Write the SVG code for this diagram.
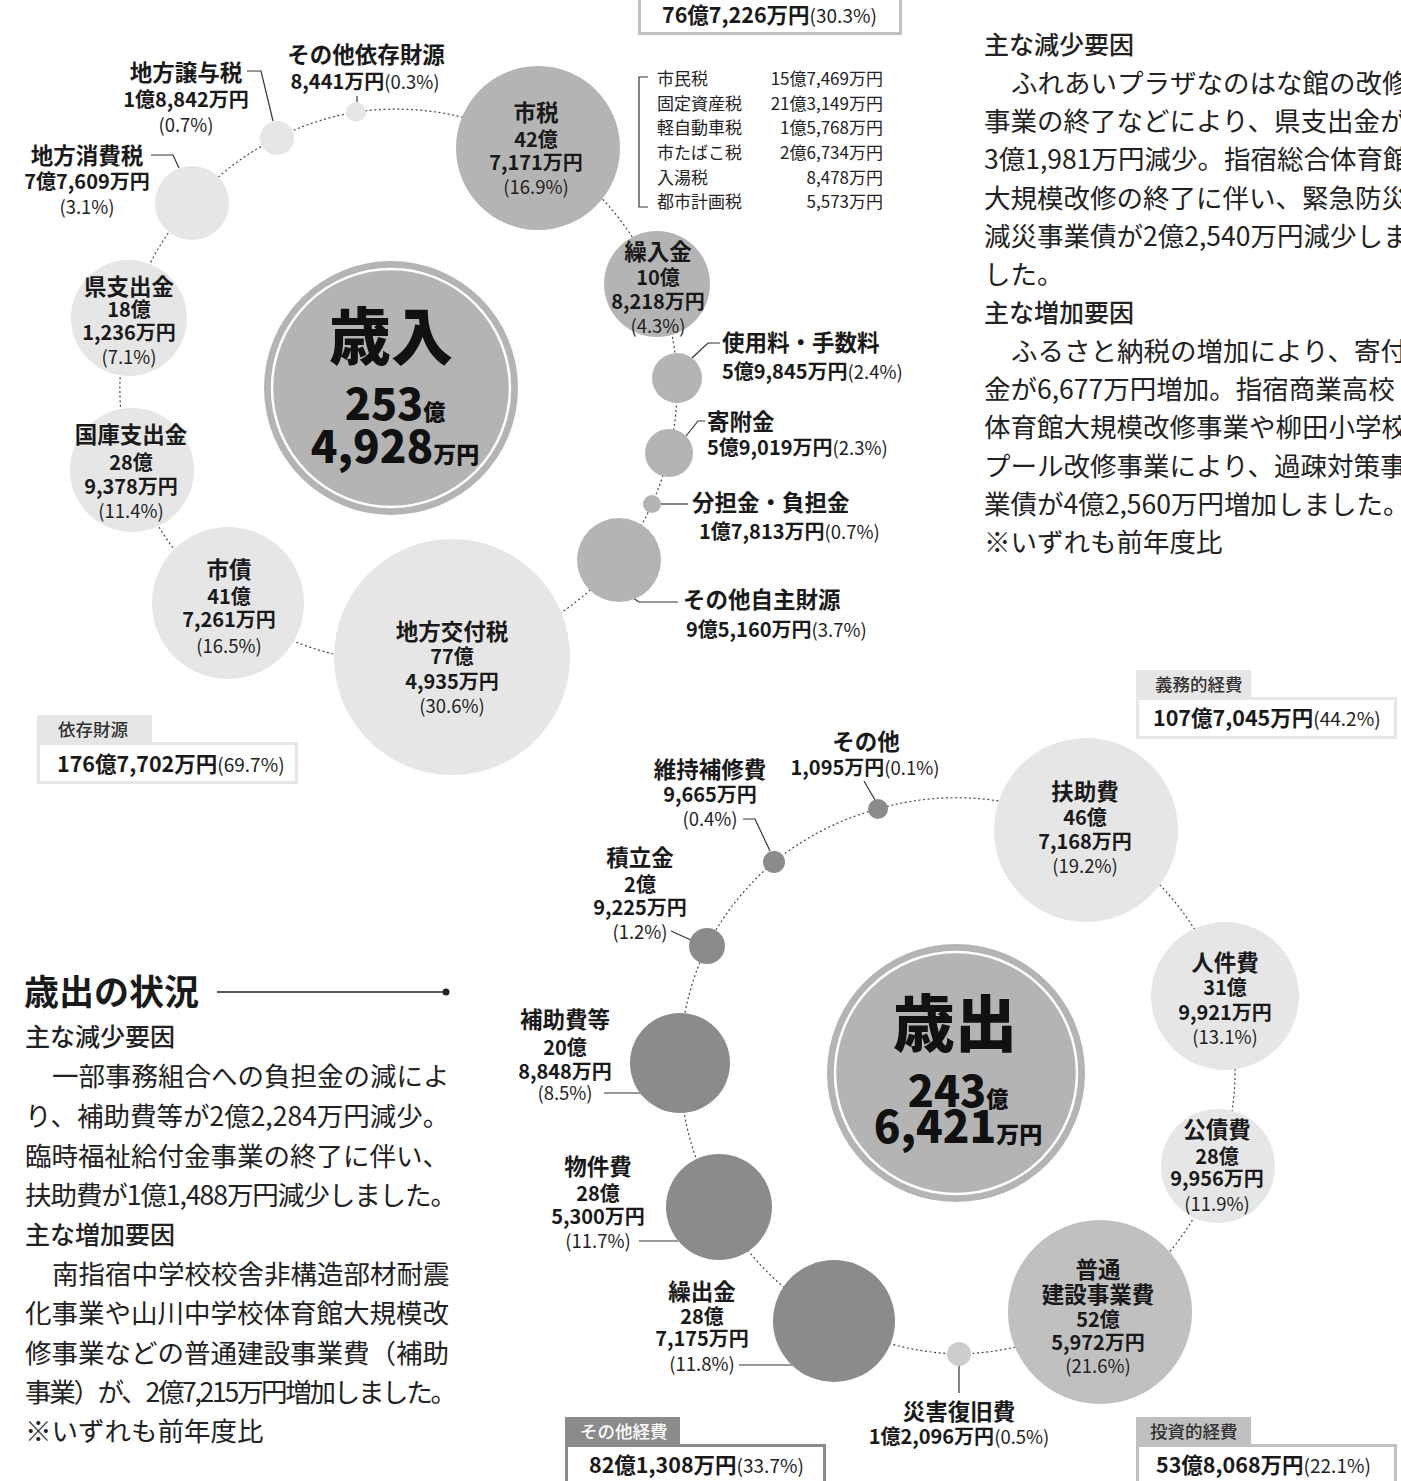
<svg xmlns="http://www.w3.org/2000/svg" width="1401" height="1481" viewBox="0 0 1401 1481">
<style>
text{font-family:"Noto Sans CJK JP","Noto Sans",sans-serif;fill:#1a1a1a}
.nm{font-size:22.5px;font-weight:700;text-anchor:middle}
.nu{font-size:20px;font-weight:700;text-anchor:middle}
.pc{font-size:18.5px;font-weight:400;fill:#222}
.st{text-anchor:start}
.big{font-weight:900;text-anchor:middle;fill:#111}
.dot{fill:none;stroke:#444;stroke-width:1.2;stroke-dasharray:2 2.6}
.ld{fill:none;stroke:#333;stroke-width:1.2}
.g1{fill:#e6e6e6}
.g2{fill:#b4b4b4}
.g3{fill:#8b8b8b}
.g4{fill:#c0c0c0}
.g5{fill:#cdcdcd}
.ring{fill:none;stroke:#fff;stroke-width:2.5}
.body{font-size:26.5px;font-weight:400;fill:#222}
.hd{font-size:25px;font-weight:500;fill:#222}
.tax{font-size:17px;font-weight:400;fill:#222}
.tabt{font-size:17.5px;font-weight:500;fill:#333}
.bx{fill:#fff;stroke-width:3}
.bn{font-size:21.5px;font-weight:700}
.bp{font-size:19px;font-weight:400;fill:#222}
</style>

<!-- connectors -->
<g id="connectors">
  <path class="dot" d="M356 112 A279 279 0 0 1 538 148"/>
  <path class="dot" d="M538 148 A279 279 0 0 1 657 284"/>
  <path class="dot" d="M657 284 A279 279 0 0 1 677 378"/>
  <path class="dot" d="M677 378 A279 279 0 0 1 669 453"/>
  <path class="dot" d="M669 453 A279 279 0 0 1 652 504"/>
  <path class="dot" d="M652 504 A279 279 0 0 1 619 560"/>
  <path class="dot" d="M619 560 A279 279 0 0 1 452 657"/>
  <path class="dot" d="M452 657 A279 279 0 0 1 228 603"/>
  <path class="dot" d="M228 603 A279 279 0 0 1 132 470"/>
  <path class="dot" d="M132 470 A279 279 0 0 1 129 318"/>
  <path class="dot" d="M129 318 A279 279 0 0 1 192 203"/>
  <path class="dot" d="M192 203 A279 279 0 0 1 277 138"/>
  <path class="dot" d="M277 138 A279 279 0 0 1 356 112"/>

  <path class="dot" d="M878 809 A277 277 0 0 1 1086 830"/>
  <path class="dot" d="M1086 830 A277 277 0 0 1 1225 996"/>
  <path class="dot" d="M1225 996 A277 277 0 0 1 1218 1166"/>
  <path class="dot" d="M1218 1166 A277 277 0 0 1 1100 1312"/>
  <path class="dot" d="M1100 1312 A277 277 0 0 1 959 1354"/>
  <path class="dot" d="M959 1354 A277 277 0 0 1 834 1321"/>
  <path class="dot" d="M834 1321 A277 277 0 0 1 719 1207"/>
  <path class="dot" d="M719 1207 A277 277 0 0 1 680 1063"/>
  <path class="dot" d="M680 1063 A277 277 0 0 1 707 946"/>
  <path class="dot" d="M707 946 A277 277 0 0 1 774 862"/>
  <path class="dot" d="M774 862 A277 277 0 0 1 878 809"/>

  <!-- leader lines -->
  <path class="ld" d="M357 96 V102"/>
  <path class="ld" d="M247 71 H261 L273 121"/>
  <path class="ld" d="M151 155 H173 L179 168"/>
  <path class="ld" d="M720 343 H708 L692 358"/>
  <path class="ld" d="M705 421 H698 L686 436"/>
  <path class="ld" d="M661 504 H688"/>
  <path class="ld" d="M633 598 L639 602 H678"/>
  <path class="ld" d="M864 781 L875 800"/>
  <path class="ld" d="M743 819 H755 L770 851"/>
  <path class="ld" d="M671 931 L691 940"/>
  <path class="ld" d="M604 1093 H641"/>
  <path class="ld" d="M639 1241 H678"/>
  <path class="ld" d="M739 1365 H792"/>
  <path class="ld" d="M959 1366 V1393"/>
  <path class="ld" d="M648 77 H639 V207 H648"/>
</g>

<!-- revenue center -->
<g id="sainyu">
  <circle cx="391" cy="388" r="127" class="g2"/>
  <circle cx="391" cy="388" r="119" class="ring"/>
  <text x="391" y="360" class="big" font-size="62">歳入</text>
  <text x="395" y="420" class="big"><tspan font-size="43">253</tspan><tspan font-size="22">億</tspan></text>
  <text x="395" y="463" class="big"><tspan font-size="44">4,928</tspan><tspan font-size="23">万円</tspan></text>
</g>

<g id="n-sonota-izon">
  <circle cx="356" cy="112" r="10" class="g1"/>
  <text x="366" y="63" class="nm">その他依存財源</text>
  <text x="365" y="89" class="nu">8,441万円<tspan class="pc">(0.3%)</tspan></text>
</g>
<g id="n-jouyo">
  <circle cx="277" cy="138" r="17" class="g1"/>
  <text x="186" y="81" class="nm">地方譲与税</text>
  <text x="186" y="107" class="nu">1億8,842万円</text>
  <text x="186" y="132" class="pc" text-anchor="middle">(0.7%)</text>
</g>
<g id="n-shouhi">
  <circle cx="192" cy="203" r="37" class="g1"/>
  <text x="87" y="164" class="nm">地方消費税</text>
  <text x="87" y="189" class="nu">7億7,609万円</text>
  <text x="87" y="214" class="pc" text-anchor="middle">(3.1%)</text>
</g>
<g id="n-ken">
  <circle cx="129" cy="318" r="58" class="g1"/>
  <text x="129" y="295" class="nm">県支出金</text>
  <text x="129" y="317" class="nu">18億</text>
  <text x="129" y="340" class="nu">1,236万円</text>
  <text x="129" y="364" class="pc" text-anchor="middle">(7.1%)</text>
</g>
<g id="n-kokko">
  <circle cx="132" cy="470" r="62" class="g1"/>
  <text x="131" y="443" class="nm">国庫支出金</text>
  <text x="131" y="470" class="nu">28億</text>
  <text x="131" y="494" class="nu">9,378万円</text>
  <text x="131" y="518" class="pc" text-anchor="middle">(11.4%)</text>
</g>
<g id="n-shisai">
  <circle cx="228" cy="603" r="76" class="g1"/>
  <text x="229" y="578" class="nm">市債</text>
  <text x="229" y="604" class="nu">41億</text>
  <text x="229" y="627" class="nu">7,261万円</text>
  <text x="229" y="653" class="pc" text-anchor="middle">(16.5%)</text>
</g>
<g id="n-koufu">
  <circle cx="452" cy="657" r="118" class="g1"/>
  <text x="452" y="640" class="nm">地方交付税</text>
  <text x="452" y="664" class="nu">77億</text>
  <text x="452" y="689" class="nu">4,935万円</text>
  <text x="452" y="713" class="pc" text-anchor="middle">(30.6%)</text>
</g>
<g id="n-shizei">
  <circle cx="538" cy="148" r="82" class="g2"/>
  <text x="536" y="121" class="nm">市税</text>
  <text x="536" y="147" class="nu">42億</text>
  <text x="536" y="170" class="nu">7,171万円</text>
  <text x="536" y="194" class="pc" text-anchor="middle">(16.9%)</text>
</g>
<g id="n-kuriire">
  <circle cx="657" cy="284" r="53" class="g2"/>
  <text x="658" y="260" class="nm">繰入金</text>
  <text x="658" y="285" class="nu">10億</text>
  <text x="658" y="309" class="nu">8,218万円</text>
  <text x="658" y="333" class="pc" text-anchor="middle">(4.3%)</text>
</g>
<g id="n-shiyou">
  <circle cx="677" cy="378" r="25" class="g2"/>
  <text x="722" y="351" class="nm st">使用料・手数料</text>
  <text x="722" y="379" class="nu st">5億9,845万円<tspan class="pc">(2.4%)</tspan></text>
</g>
<g id="n-kifu">
  <circle cx="669" cy="453" r="24" class="g2"/>
  <text x="707" y="430" class="nm st">寄附金</text>
  <text x="707" y="455" class="nu st">5億9,019万円<tspan class="pc">(2.3%)</tspan></text>
</g>
<g id="n-buntan">
  <circle cx="652" cy="504" r="9" class="g2"/>
  <text x="692" y="511" class="nm st">分担金・負担金</text>
  <text x="699" y="539" class="nu st">1億7,813万円<tspan class="pc">(0.7%)</tspan></text>
</g>
<g id="n-sonota-jishu">
  <circle cx="619" cy="560" r="42" class="g2"/>
  <text x="683" y="608" class="nm st">その他自主財源</text>
  <text x="686" y="637" class="nu st">9億5,160万円<tspan class="pc">(3.7%)</tspan></text>
</g>

<g id="tax-list">
  <text x="657" y="85" class="tax">市民税</text><text x="883" y="85" class="tax" text-anchor="end">15億7,469万円</text>
  <text x="657" y="110" class="tax">固定資産税</text><text x="883" y="110" class="tax" text-anchor="end">21億3,149万円</text>
  <text x="657" y="134" class="tax">軽自動車税</text><text x="883" y="134" class="tax" text-anchor="end">1億5,768万円</text>
  <text x="657" y="159" class="tax">市たばこ税</text><text x="883" y="159" class="tax" text-anchor="end">2億6,734万円</text>
  <text x="657" y="184" class="tax">入湯税</text><text x="883" y="184" class="tax" text-anchor="end">8,478万円</text>
  <text x="657" y="208" class="tax">都市計画税</text><text x="883" y="208" class="tax" text-anchor="end">5,573万円</text>
</g>

<!-- legend boxes -->
<g id="box-jishu">
  <rect x="639.5" y="-10" width="261" height="43.5" class="bx" stroke="#c0c0c0"/>
  <text x="662" y="23"><tspan class="bn">76億7,226万円</tspan><tspan class="bp">(30.3%)</tspan></text>
</g>
<g id="box-izon">
  <rect x="37" y="715" width="115" height="28" fill="#e6e6e6"/>
  <text x="58" y="736" class="tabt">依存財源</text>
  <rect x="38.5" y="743.5" width="258" height="39" class="bx" stroke="#e6e6e6"/>
  <text x="57" y="772"><tspan class="bn">176億7,702万円</tspan><tspan class="bp">(69.7%)</tspan></text>
</g>
<g id="box-gimu">
  <rect x="1136" y="670" width="115" height="28" fill="#e6e6e6"/>
  <text x="1155" y="691" class="tabt">義務的経費</text>
  <rect x="1137.5" y="698.5" width="258" height="39" class="bx" stroke="#e6e6e6"/>
  <text x="1153" y="726"><tspan class="bn">107億7,045万円</tspan><tspan class="bp">(44.2%)</tspan></text>
</g>
<g id="box-sonota">
  <rect x="565" y="1417" width="115" height="28" fill="#8b8b8b"/>
  <text x="580" y="1438" class="tabt" style="fill:#fff">その他経費</text>
  <rect x="566.5" y="1445.5" width="258" height="40" class="bx" stroke="#8b8b8b"/>
  <text x="589" y="1473"><tspan class="bn">82億1,308万円</tspan><tspan class="bp">(33.7%)</tspan></text>
</g>
<g id="box-toushi">
  <rect x="1136" y="1417" width="115" height="28" fill="#c0c0c0"/>
  <text x="1150" y="1438" class="tabt">投資的経費</text>
  <rect x="1137.5" y="1445.5" width="258" height="40" class="bx" stroke="#c0c0c0"/>
  <text x="1156" y="1473"><tspan class="bn">53億8,068万円</tspan><tspan class="bp">(22.1%)</tspan></text>
</g>

<!-- expenditure center -->
<g id="saishutsu">
  <circle cx="956" cy="1073" r="129" class="g2"/>
  <circle cx="956" cy="1073" r="121" class="ring"/>
  <text x="955" y="1047" class="big" font-size="62">歳出</text>
  <text x="958" y="1107" class="big"><tspan font-size="43">243</tspan><tspan font-size="22">億</tspan></text>
  <text x="958" y="1143" class="big"><tspan font-size="44">6,421</tspan><tspan font-size="23">万円</tspan></text>
</g>

<g id="n-sonota">
  <circle cx="878" cy="809" r="10" class="g3"/>
  <text x="866" y="750" class="nm">その他</text>
  <text x="865" y="775" class="nu">1,095万円<tspan class="pc">(0.1%)</tspan></text>
</g>
<g id="n-iji">
  <circle cx="774" cy="862" r="11" class="g3"/>
  <text x="710" y="778" class="nm">維持補修費</text>
  <text x="710" y="802" class="nu">9,665万円</text>
  <text x="710" y="826" class="pc" text-anchor="middle">(0.4%)</text>
</g>
<g id="n-tsumitate">
  <circle cx="707" cy="946" r="18" class="g3"/>
  <text x="640" y="866" class="nm">積立金</text>
  <text x="640" y="892" class="nu">2億</text>
  <text x="640" y="915" class="nu">9,225万円</text>
  <text x="640" y="939" class="pc" text-anchor="middle">(1.2%)</text>
</g>
<g id="n-hojo">
  <circle cx="680" cy="1063" r="50" class="g3"/>
  <text x="565" y="1028" class="nm">補助費等</text>
  <text x="565" y="1055" class="nu">20億</text>
  <text x="565" y="1079" class="nu">8,848万円</text>
  <text x="565" y="1100" class="pc" text-anchor="middle">(8.5%)</text>
</g>
<g id="n-bukken">
  <circle cx="719" cy="1207" r="53" class="g3"/>
  <text x="598" y="1175" class="nm">物件費</text>
  <text x="598" y="1201" class="nu">28億</text>
  <text x="598" y="1224" class="nu">5,300万円</text>
  <text x="598" y="1248" class="pc" text-anchor="middle">(11.7%)</text>
</g>
<g id="n-kuridashi">
  <circle cx="834" cy="1321" r="61" class="g3"/>
  <text x="702" y="1300" class="nm">繰出金</text>
  <text x="702" y="1324" class="nu">28億</text>
  <text x="702" y="1346" class="nu">7,175万円</text>
  <text x="702" y="1371" class="pc" text-anchor="middle">(11.8%)</text>
</g>
<g id="n-saigai">
  <circle cx="959" cy="1354" r="12" class="g5"/>
  <text x="959" y="1420" class="nm">災害復旧費</text>
  <text x="959" y="1444" class="nu">1億2,096万円<tspan class="pc">(0.5%)</tspan></text>
</g>
<g id="n-futsu">
  <circle cx="1100" cy="1312" r="92" class="g4"/>
  <text x="1098" y="1278" class="nm">普通</text>
  <text x="1098" y="1303" class="nm">建設事業費</text>
  <text x="1098" y="1327" class="nu">52億</text>
  <text x="1098" y="1350" class="nu">5,972万円</text>
  <text x="1098" y="1373" class="pc" text-anchor="middle">(21.6%)</text>
</g>
<g id="n-kousai">
  <circle cx="1218" cy="1166" r="57" class="g1"/>
  <text x="1217" y="1138" class="nm">公債費</text>
  <text x="1217" y="1164" class="nu">28億</text>
  <text x="1217" y="1186" class="nu">9,956万円</text>
  <text x="1217" y="1211" class="pc" text-anchor="middle">(11.9%)</text>
</g>
<g id="n-jinken">
  <circle cx="1225" cy="996" r="74" class="g1"/>
  <text x="1225" y="971" class="nm">人件費</text>
  <text x="1225" y="995" class="nu">31億</text>
  <text x="1225" y="1020" class="nu">9,921万円</text>
  <text x="1225" y="1044" class="pc" text-anchor="middle">(13.1%)</text>
</g>
<g id="n-fujo">
  <circle cx="1086" cy="830" r="92" class="g1"/>
  <text x="1085" y="800" class="nm">扶助費</text>
  <text x="1085" y="825" class="nu">46億</text>
  <text x="1085" y="849" class="nu">7,168万円</text>
  <text x="1085" y="873" class="pc" text-anchor="middle">(19.2%)</text>
</g>

<!-- right top text -->
<g id="text-revenue">
  <text x="984" y="54" class="hd">主な減少要因</text>
  <text x="1011" y="93" class="body">ふれあいプラザなのはな館の改修</text>
  <text x="984" y="131" class="body">事業の終了などにより、県支出金が</text>
  <text x="984" y="169" class="body">3億1,981万円減少。指宿総合体育館</text>
  <text x="984" y="208" class="body">大規模改修の終了に伴い、緊急防災</text>
  <text x="984" y="246" class="body">減災事業債が2億2,540万円減少しま</text>
  <text x="984" y="284" class="body">した。</text>
  <text x="984" y="322" class="hd">主な増加要因</text>
  <text x="1011" y="361" class="body">ふるさと納税の増加により、寄付</text>
  <text x="984" y="399" class="body">金が6,677万円増加。指宿商業高校</text>
  <text x="984" y="437" class="body">体育館大規模改修事業や柳田小学校</text>
  <text x="984" y="476" class="body">プール改修事業により、過疎対策事</text>
  <text x="984" y="514" class="body">業債が4億2,560万円増加しました。</text>
  <text x="984" y="552" class="body">※いずれも前年度比</text>
</g>

<!-- left bottom text -->
<g id="text-expenditure">
  <text x="24" y="1005" style="font-size:35px;font-weight:700;fill:#1a1a1a">歳出の状況</text>
  <path d="M217 992 H445" stroke="#222" stroke-width="1.5"/>
  <circle cx="446" cy="992" r="3.5" fill="#222"/>
  <text x="25" y="1046" class="hd">主な減少要因</text>
  <text x="52" y="1086" class="body">一部事務組合への負担金の減によ</text>
  <text x="25" y="1126" class="body">り、補助費等が2億2,284万円減少。</text>
  <text x="25" y="1166" class="body">臨時福祉給付金事業の終了に伴い、</text>
  <text x="25" y="1205" class="body" textLength="432" lengthAdjust="spacing">扶助費が1億1,488万円減少しました。</text>
  <text x="25" y="1244" class="hd">主な増加要因</text>
  <text x="52" y="1284" class="body">南指宿中学校校舎非構造部材耐震</text>
  <text x="25" y="1323" class="body">化事業や山川中学校体育館大規模改</text>
  <text x="25" y="1363" class="body">修事業などの普通建設事業費（補助</text>
  <text x="25" y="1402" class="body" textLength="432" lengthAdjust="spacing">事業）が、2億7,215万円増加しました。</text>
  <text x="25" y="1441" class="body">※いずれも前年度比</text>
</g>
</svg>
